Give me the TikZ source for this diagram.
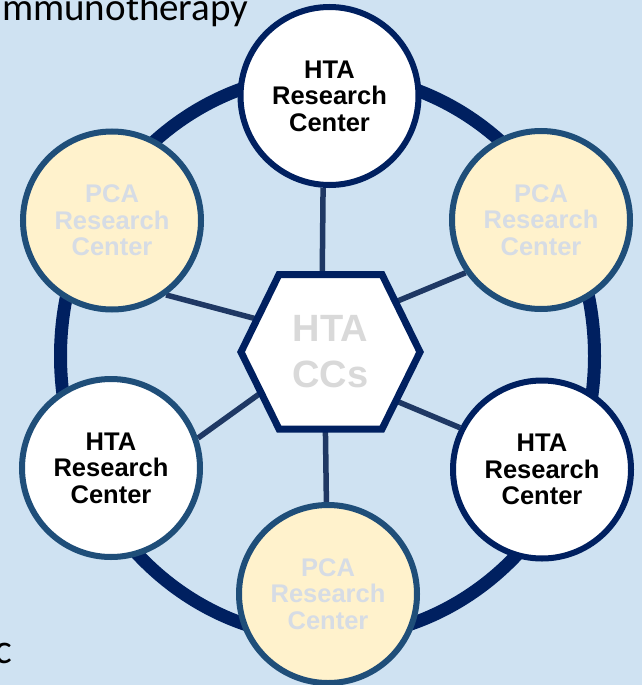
\documentclass[tikz,border=0pt]{standalone}
\usepackage{fontspec}
\setmainfont{Liberation Sans}
\newfontfamily\carlitofont{Carlito}
\pgfdeclarelayer{background}
\pgfsetlayers{background,main}
\definecolor{bgblue}{RGB}{207,226,242}
\definecolor{navy}{RGB}{0,32,96}
\definecolor{steel}{RGB}{31,78,121}
\definecolor{spokecol}{RGB}{31,56,100}
\definecolor{pcafill}{RGB}{255,242,204}
\definecolor{pcatext}{RGB}{214,220,229}
\definecolor{hextext}{RGB}{217,217,217}
\tikzset{
  center/.style={circle, minimum size=178pt, inner sep=0pt, line width=6pt,
    align=center, font=\bfseries\fontsize{25.5}{26.5}\selectfont},
  htanavy/.style={center, draw=navy, fill=white, text=black},
  htasteel/.style={center, draw=steel, fill=white, text=black},
  pca/.style={center, draw=steel, fill=pcafill, text=pcatext},
  ringline/.style={draw=navy, line width=13pt},
  spoke/.style={draw=spokecol, line width=5.5pt},
  hexshape/.style={draw=navy, fill=white, line width=7pt},
  hexlabel/.style={align=center, text=hextext, inner sep=0pt,
    font=\bfseries\fontsize{38}{46}\selectfont},
  outside/.style={inner sep=0pt, text=black, font=\carlitofont\fontsize{39}{41}\selectfont}
}
\begin{document}
\begin{tikzpicture}[x=1pt,y=-1pt]
\useasboundingbox (0,0) rectangle (642,685);
\begin{pgfonlayer}{background}
  \fill[bgblue] (0,0) rectangle (642,685);
\end{pgfonlayer}

% outside texts
\node[outside, anchor=base west] (immuno) at (2,21) {mmunotherapy};
\node[outside, anchor=base east, font=\carlitofont\fontsize{42}{44}\selectfont] (cfrag) at (12,663) {c};

% hexagon
\draw[hexshape] (241,352) -- (279,274.5) -- (382,274.5) -- (420,352)
  -- (382,429) -- (279,429) -- cycle;
\node[hexlabel] (hex) at (330.5,352) {HTA\\CCs};

% circles
\node[htanavy]  (top) at (329.5,96)  {HTA\\Research\\Center};
\node[pca]      (rt)  at (541,220)   {PCA\\Research\\Center};
\node[htanavy]  (rb)  at (542,469.5) {HTA\\Research\\Center};
\node[pca]      (bot) at (328,594)   {PCA\\Research\\Center};
\node[htasteel] (lb)  at (111,468)   {HTA\\Research\\Center};
\node[pca]      (lt)  at (112,220.5) {PCA\\Research\\Center};

% inner spoke ends (hidden beneath the hexagon)
\coordinate (hin-top) at (322,300);
\coordinate (hin-bot) at (325,400);
\coordinate (hin-lt)  at (300,330.5);
\coordinate (hin-lb)  at (300,364.6);
\coordinate (hin-rt)  at (360,316.6);
\coordinate (hin-rb)  at (360,385.8);

\begin{pgfonlayer}{background}
  \draw[ringline] (327.5,356) ellipse [x radius=267pt, y radius=282pt];
  \draw[spoke] (top.-94.7) -- (hin-top);
  \draw[spoke] (bot.91.9)  -- (hin-bot);
  \draw[spoke] (lt.-54)    -- (hin-lt);
  \draw[spoke] (lb.19)     -- (hin-lb);
  \draw[spoke] (rt.-145)   -- (hin-rt);
  \draw[spoke] (rb.153)    -- (hin-rb);
\end{pgfonlayer}
\end{tikzpicture}
\end{document}
